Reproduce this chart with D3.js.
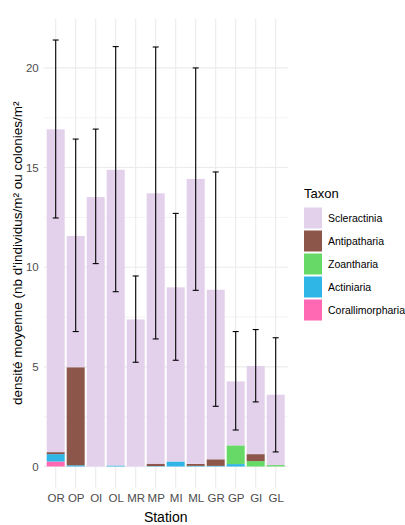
<!DOCTYPE html>
<html>
<head>
<meta charset="utf-8">
<script src="https://cdn.jsdelivr.net/npm/d3@7"></script>
<style>
  html, body { margin: 0; padding: 0; background: #fff; }
  svg { display: block; font-family: "Liberation Sans", Arial, sans-serif; }
</style>
</head>
<body>
<svg id="chart" width="405" height="525"></svg>
<script>
// Stations along the x axis
const stations = ["OR","OP","OI","OL","MR","MP","MI","ML","GR","GP","GI","GL"];

// Mean density per taxon and station (stacked)
const scleractinia     = [16.20, 6.59, 13.52, 14.84, 7.38, 13.57, 8.74, 14.30, 8.51, 3.21, 4.42, 3.53];
const antipatharia     = [0.10, 4.92, 0, 0, 0, 0.12, 0, 0.10, 0.33, 0, 0.35, 0];
const zoantharia       = [0, 0, 0, 0, 0, 0, 0, 0, 0, 0.94, 0.27, 0.07];
const actiniaria       = [0.37, 0.06, 0, 0.05, 0, 0.02, 0.25, 0.03, 0.03, 0.12, 0, 0];
const corallimorpharia = [0.25, 0, 0, 0, 0, 0, 0, 0, 0, 0, 0, 0];

// Error bar limits around the total density
const errLow  = [12.47, 6.77, 10.18, 8.77, 5.23, 6.40, 5.33, 8.84, 3.02, 1.83, 3.24, 0.73];
const errHigh = [21.40, 16.43, 16.93, 21.07, 9.56, 21.05, 12.70, 20.00, 14.78, 6.77, 6.87, 6.46];

const yTicks = [0, 5, 10, 15, 20];
const yMinorTicks = [2.5, 7.5, 12.5, 17.5];

const taxa = ["Scleractinia","Antipatharia","Zoantharia","Actiniaria","Corallimorpharia"];
const taxonColors = ["#E3D1EC", "#8C564B", "#66D966", "#2FB5E6", "#FF69B4"];
const taxonValues = [scleractinia, antipatharia, zoantharia, actiniaria, corallimorpharia];

// Rows for the stack: one per station
const rows = stations.map((s, i) => {
  const r = { station: s };
  taxa.forEach((t, k) => { r[t] = taxonValues[k][i]; });
  return r;
});

// Stacked from the bottom: last taxon in the legend sits at the base
const stackOrder = taxa.slice().reverse();
const series = d3.stack().keys(stackOrder)(rows);
const color = d3.scaleOrdinal().domain(taxa).range(taxonColors);

const svg = d3.select("#chart");
const panel = { left: 43.7, right: 287.7, top: 18.7, bottom: 487.8 };

// Discrete x positions with 0.6-step padding on each side
const x = d3.scalePoint()
  .domain(stations)
  .range([panel.left, panel.right])
  .padding(0.6);
const step = x.step();
const barW = 0.9 * step;

const yMax = d3.max(errHigh);
const yPad = yMax * 0.05;
const y = d3.scaleLinear().domain([0 - yPad, yMax + yPad]).range([panel.bottom, panel.top]);

// Grid
const grid = svg.append("g");
grid.selectAll("line.minor").data(yMinorTicks).join("line")
  .attr("x1", panel.left).attr("x2", panel.right)
  .attr("y1", d => y(d)).attr("y2", d => y(d))
  .attr("stroke", "#F3F3F3").attr("stroke-width", 1);
grid.selectAll("line.major").data(yTicks).join("line")
  .attr("x1", panel.left).attr("x2", panel.right)
  .attr("y1", d => y(d)).attr("y2", d => y(d))
  .attr("stroke", "#EBEBEB").attr("stroke-width", 1.1);
grid.selectAll("line.vert").data(stations).join("line")
  .attr("x1", d => x(d)).attr("x2", d => x(d))
  .attr("y1", panel.top).attr("y2", panel.bottom)
  .attr("stroke", "#EBEBEB").attr("stroke-width", 1.1);

// Stacked bars
svg.append("g").selectAll("g").data(series).join("g")
  .attr("fill", d => color(d.key))
  .selectAll("rect").data(d => d).join("rect")
  .attr("x", d => x(d.data.station) - barW / 2)
  .attr("width", barW)
  .attr("y", d => y(d[1]))
  .attr("height", d => Math.max(0, y(d[0]) - y(d[1])));

// Error bars
const capW = 6;
const eb = svg.append("g").attr("stroke", "#000").attr("stroke-width", 1.1);
stations.forEach((s, i) => {
  const cx = x(s);
  eb.append("line").attr("x1", cx).attr("x2", cx).attr("y1", y(errLow[i])).attr("y2", y(errHigh[i]));
  eb.append("line").attr("x1", cx - capW / 2).attr("x2", cx + capW / 2).attr("y1", y(errLow[i])).attr("y2", y(errLow[i]));
  eb.append("line").attr("x1", cx - capW / 2).attr("x2", cx + capW / 2).attr("y1", y(errHigh[i])).attr("y2", y(errHigh[i]));
});

// Y axis labels
const yAxis = d3.axisLeft(y).tickValues(yTicks).tickSize(0).tickPadding(5);
svg.append("g").attr("transform", `translate(${panel.left},0)`).call(yAxis)
  .call(g => g.select(".domain").remove())
  .call(g => g.selectAll("text").attr("fill", "#4D4D4D").attr("font-size", 11.5).attr("font-family", "Liberation Sans, Arial, sans-serif"));

// X axis labels
const xAxis = d3.axisBottom(x).tickSize(0).tickPadding(6);
svg.append("g").attr("transform", `translate(0,${panel.bottom})`).call(xAxis)
  .call(g => g.select(".domain").remove())
  .call(g => g.selectAll("text").attr("fill", "#4D4D4D").attr("font-size", 11.5).attr("font-family", "Liberation Sans, Arial, sans-serif"));

// Axis titles
svg.append("text").attr("x", (panel.left + panel.right) / 2).attr("y", 521.5)
  .attr("text-anchor", "middle").attr("font-size", 14).attr("fill", "#000")
  .text("Station");
svg.append("text")
  .attr("transform", `translate(22,${(panel.top + panel.bottom) / 2}) rotate(-90)`)
  .attr("text-anchor", "middle").attr("font-size", 13.5).attr("fill", "#000")
  .text("densité moyenne (nb d'individus/m² ou colonies/m²");

// Legend
const legend = svg.append("g").attr("transform", "translate(304,0)");
legend.append("text").attr("x", 0).attr("y", 198).attr("font-size", 13).attr("fill", "#000").text("Taxon");
taxa.forEach((t, k) => {
  const ky = 207.5 + k * 23;
  legend.append("rect").attr("x", 0).attr("y", ky).attr("width", 18).attr("height", 21).attr("fill", color(t));
  legend.append("text").attr("x", 24).attr("y", ky + 10.5).attr("dy", "0.35em")
    .attr("font-size", 10.5).attr("fill", "#000").text(t);
});
</script>
</body>
</html>
